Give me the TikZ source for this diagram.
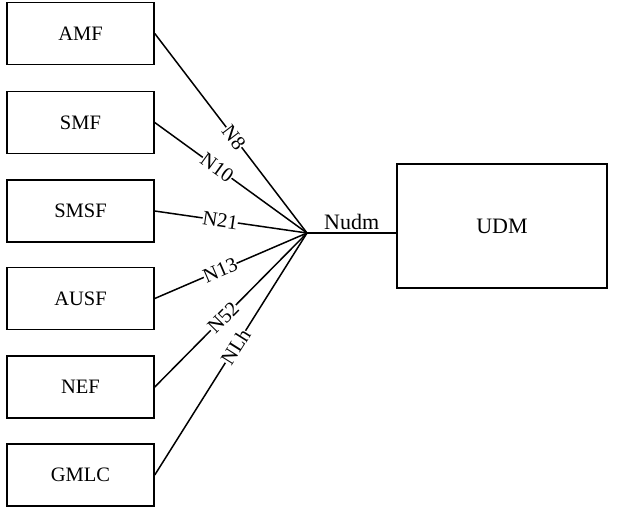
\documentclass[tikz,border=0pt]{standalone}
\usepackage{fontspec}
\setmainfont{Liberation Serif}
\begin{document}
\begin{tikzpicture}[x=1pt,y=-1pt,
  nf/.style={draw, line width=1.5pt, minimum width=147pt, minimum height=62pt, inner sep=0pt, font=\fontsize{20.5}{24}\selectfont},
  link/.style={line width=1.5pt},
  lbl/.style={sloped, fill=white, inner sep=0pt, font=\fontsize{20.5}{24}\selectfont}]
\useasboundingbox (0,0) rectangle (619,507);
\node[nf] (amf) at (80.5,33.5) {AMF};
\node[nf] (smf) at (80.5,122.5) {SMF};
\node[nf] (smsf) at (80.5,211) {SMSF};
\node[nf] (ausf) at (80.5,298.5) {AUSF};
\node[nf] (nef) at (80.5,387) {NEF};
\node[nf] (gmlc) at (80.5,475) {GMLC};
\node[nf, minimum width=210pt, minimum height=124pt, font=\fontsize{22}{26}\selectfont] (udm) at (502,226) {UDM};
\coordinate (hub) at (307,233);
\draw[link] (amf.east) -- node[lbl, pos=0.52] {N8} (hub);
\draw[link] (smf.east) -- node[lbl, pos=0.41] {N10} (hub);
\draw[link] (smsf.east) -- node[lbl, pos=0.43] {N21} (hub);
\draw[link] (ausf.east) -- node[lbl, pos=0.43] {N13} (hub);
\draw[link] (nef.east) -- node[lbl, pos=0.45] {N52} (hub);
\draw[link] (gmlc.east) -- node[lbl, pos=0.53] {NLh} (hub);
\draw[link] (hub) -- node[above, inner sep=3pt, font=\fontsize{22}{26}\selectfont] {Nudm} (hub -| udm.west);
\end{tikzpicture}
\end{document}
